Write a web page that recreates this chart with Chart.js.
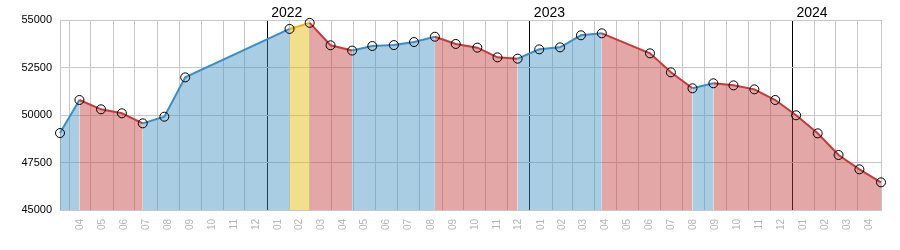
<!DOCTYPE html>
<html>
<head>
<meta charset="utf-8">
<script src="https://cdn.jsdelivr.net/npm/chart.js@4"></script>
<style>
  html, body { margin: 0; padding: 0; background: #fff; }
  #wrap { width: 900px; height: 250px; }
</style>
</head>
<body>
<div id="wrap"><canvas id="c" width="900" height="250"></canvas></div>
<script>
// ---- data ----
const dates = [
  '2021-03-19','2021-04-15','2021-05-15','2021-06-13','2021-07-12','2021-08-11','2021-09-09',
  '2022-02-01','2022-03-01','2022-03-30','2022-04-29','2022-05-27','2022-06-26','2022-07-24',
  '2022-08-22','2022-09-20','2022-10-20','2022-11-17','2022-12-15','2023-01-14','2023-02-12',
  '2023-03-13','2023-04-11','2023-06-17','2023-07-16','2023-08-15','2023-09-13','2023-10-11',
  '2023-11-09','2023-12-08','2024-01-06','2024-02-05','2024-03-05','2024-04-03','2024-05-03'
];
const values = [
  49050, 50790, 50300, 50090, 49560, 49910, 51980,
  54530, 54850, 53670, 53390, 53630, 53680, 53840,
  54120, 53740, 53545, 53035, 52965, 53455, 53560,
  54195, 54300, 53245, 52245, 51405, 51668, 51560,
  51350, 50790, 49985, 49035, 47895, 47140, 46455
];
// colour class of the segment that starts at each point
const segTrend = [
  'up','down','down','down','up','up','up',
  'peak','down','down','up','up','up','up',
  'down','down','down','down','up','up','up',
  'up','down','down','down','up','down','down',
  'down','down','down','down','down','down'
];
const monthTicks = [
  '2021-04','2021-05','2021-06','2021-07','2021-08','2021-09','2021-10','2021-11','2021-12',
  '2022-01','2022-02','2022-03','2022-04','2022-05','2022-06','2022-07','2022-08','2022-09',
  '2022-10','2022-11','2022-12','2023-01','2023-02','2023-03','2023-04','2023-05','2023-06',
  '2023-07','2023-08','2023-09','2023-10','2023-11','2023-12','2024-01','2024-02','2024-03','2024-04'
];
const monthLabels = monthTicks.map(m => m.slice(5));
const yearTicks = ['2022-01-01','2023-01-01','2024-01-01'];
const yearLabels = ['2022','2023','2024'];
const yTickLabels = ['45000','47500','50000','52500','55000'];

// ---- helpers ----
const DAY = 86400000;
function toDay(s) {
  const p = s.split('-').map(Number);
  return Date.UTC(p[0], p[1] - 1, p[2] || 1) / DAY;
}
function monthStart(m) { return toDay(m + '-01'); }
function monthEnd(m) {
  const p = m.split('-').map(Number);
  return Date.UTC(p[0], p[1], 1) / DAY;
}
const xs = dates.map(toDay);
const points = xs.map((x, i) => ({ x: x, y: values[i] }));
const xMin = xs[0], xMax = xs[xs.length - 1];

const yearDays = yearTicks.map(toDay);
const bottomTicks = [];
monthTicks.forEach((m, i) => {
  const s = monthStart(m), e = monthEnd(m);
  bottomTicks.push({ value: s, kind: 'grid', label: '' });
  bottomTicks.push({ value: (s + e) / 2, kind: 'label', label: monthLabels[i] });
});

const lineColors = { up: '#3a8fc9', down: '#c8383c', peak: '#e6b412' };
const fillColors = { up: 'rgba(64,144,193,0.45)', down: 'rgba(193,59,59,0.45)', peak: 'rgba(227,184,4,0.45)' };
const GRID = '#c8c8c8';
const FONT = "'Liberation Sans', Arial, sans-serif";

new Chart(document.getElementById('c'), {
  type: 'line',
  data: {
    datasets: [{
      data: points,
      xAxisID: 'x',
      yAxisID: 'y',
      borderColor: lineColors.up,
      backgroundColor: fillColors.up,
      borderWidth: 2,
      tension: 0,
      fill: 'start',
      clip: false,
      pointRadius: 4.5,
      pointHoverRadius: 4.5,
      pointBorderColor: '#000',
      pointBackgroundColor: 'rgba(0,0,0,0)',
      pointBorderWidth: 1,
      segment: {
        borderColor: ctx => lineColors[segTrend[ctx.p0DataIndex]],
        backgroundColor: ctx => fillColors[segTrend[ctx.p0DataIndex]]
      }
    }]
  },
  options: {
    responsive: false,
    animation: false,
    devicePixelRatio: 1,
    layout: { padding: { left: 0, right: 19, top: 0, bottom: 0 } },
    plugins: { legend: { display: false }, tooltip: { enabled: false } },
    events: [],
    scales: {
      x: {
        type: 'linear',
        position: 'bottom',
        min: xMin,
        max: xMax,
        afterBuildTicks: s => { s.ticks = bottomTicks.map(t => ({ value: t.value })); },
        afterFit: s => { s.height = 40; },
        grid: {
          drawTicks: false,
          color: ctx => {
            const v = ctx.tick ? ctx.tick.value : null;
            if (yearDays.includes(v)) return '#000';
            const t = bottomTicks.find(b => b.value === v);
            return (t && t.kind === 'grid') ? GRID : 'rgba(0,0,0,0)';
          },
          lineWidth: 1
        },
        border: { display: true, color: GRID },
        ticks: {
          autoSkip: false,
          minRotation: 90,
          maxRotation: 90,
          padding: 9,
          color: '#b4b4b4',
          font: { family: FONT, size: 10 },
          callback: (v) => {
            const t = bottomTicks.find(b => b.value === v);
            return t ? t.label : '';
          }
        }
      },
      xTop: {
        type: 'linear',
        position: 'top',
        min: xMin,
        max: xMax,
        afterBuildTicks: s => { s.ticks = yearDays.map(v => ({ value: v })); },
        afterFit: s => { s.height = 20; },
        grid: { display: false, drawTicks: false },
        border: { display: true, color: GRID },
        ticks: {
          autoSkip: false,
          maxRotation: 0,
          minRotation: 0,
          align: 'start',
          labelOffset: 4,
          padding: -2,
          color: '#000',
          font: { family: FONT, size: 14 },
          callback: v => yearLabels[yearDays.indexOf(v)]
        }
      },
      y: {
        type: 'linear',
        position: 'left',
        min: 45000,
        max: 55000,
        afterBuildTicks: s => { s.ticks = yTickLabels.map(v => ({ value: Number(v) })); },
        afterFit: s => { s.width = 60; },
        grid: { color: GRID, drawTicks: false },
        border: { display: true, color: GRID },
        ticks: {
          padding: 8,
          color: '#000',
          font: { family: FONT, size: 11 },
          callback: v => yTickLabels[yTickLabels.indexOf(String(v))]
        }
      },
      yRight: {
        type: 'linear',
        position: 'right',
        min: 45000,
        max: 55000,
        afterFit: s => { s.width = 0; },
        grid: { display: false, drawTicks: false },
        border: { display: true, color: GRID },
        ticks: { display: false }
      }
    }
  }
});
</script>
</body>
</html>
